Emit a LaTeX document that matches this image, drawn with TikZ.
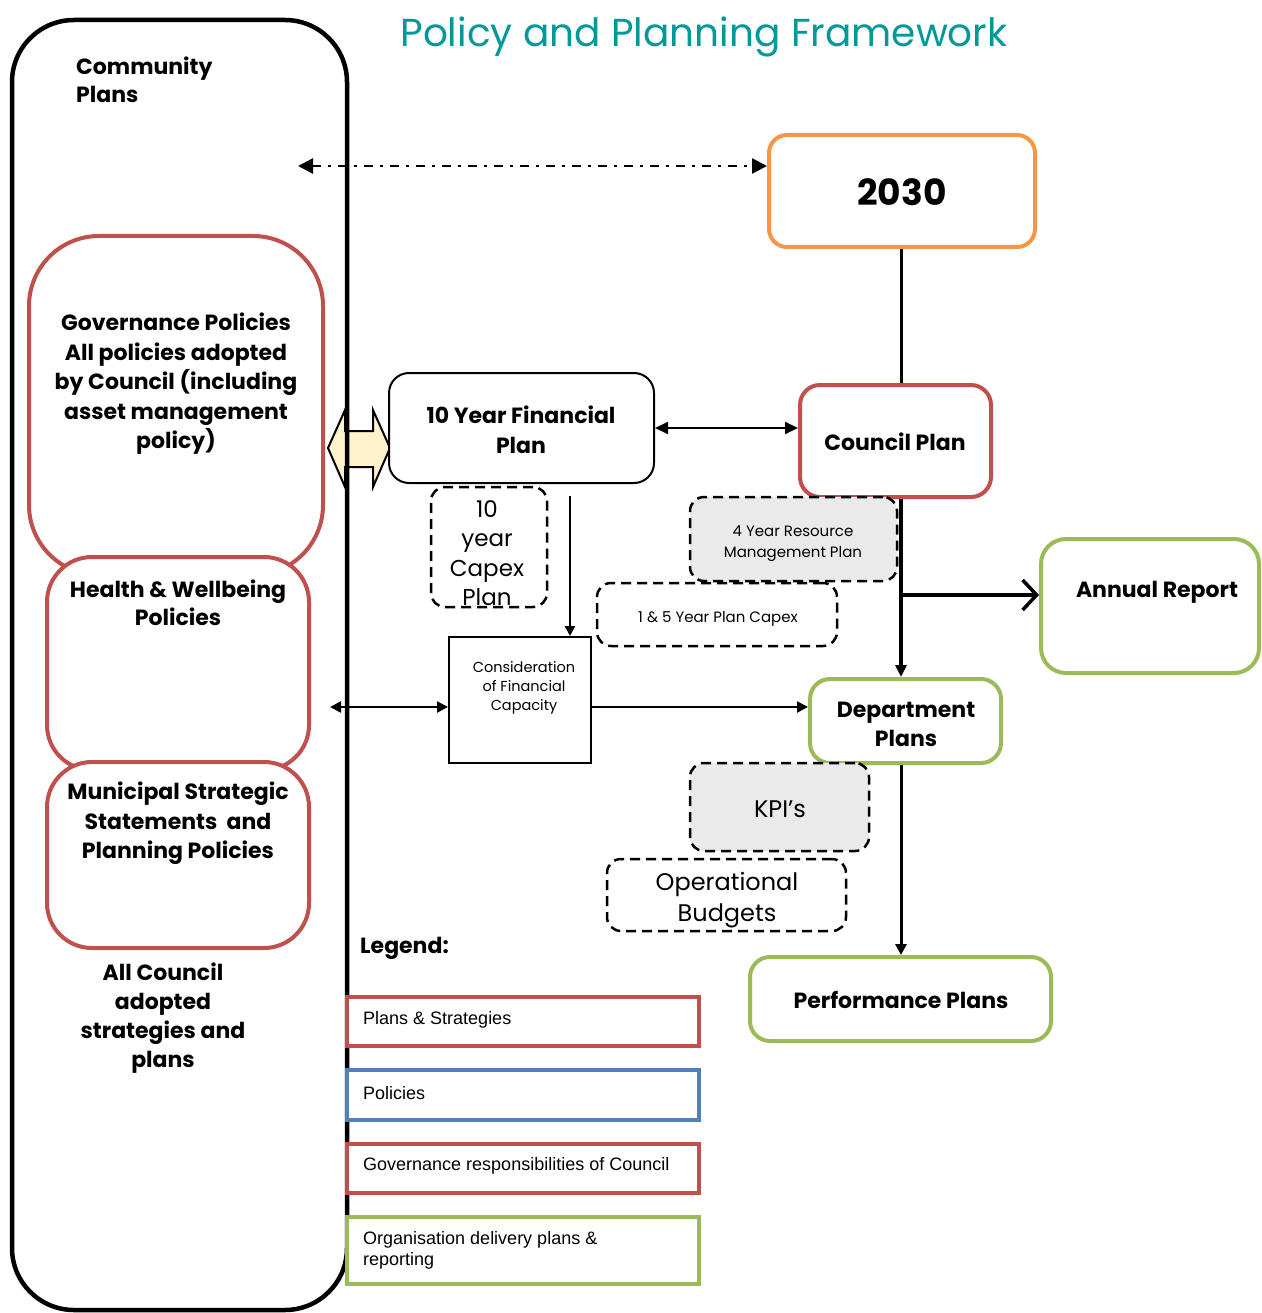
\documentclass[tikz,border=0pt]{standalone}
\usepackage{fontspec}
\setmainfont{Poppins}
\newfontfamily\arialf{Liberation Sans}
\usetikzlibrary{arrows.meta}
\definecolor{cred}{RGB}{192,80,77}
\definecolor{corange}{RGB}{247,150,70}
\definecolor{cgreen}{RGB}{155,187,89}
\definecolor{cblue}{RGB}{79,129,189}
\definecolor{cteal}{RGB}{0,153,153}
\definecolor{cgray}{RGB}{234,234,234}
\definecolor{cyellow}{RGB}{255,242,204}
\tikzset{
  cbox/.style={draw, line width=4pt, fill=white, rounded corners=#1, inner sep=0pt},
  cbox/.default=20pt,
  dbox/.style={draw, line width=2.5pt, dash pattern=on 10pt off 6pt, rounded corners=14pt, inner sep=0pt},
  lbox/.style={draw, line width=4pt, fill=white, inner sep=0pt},
  btxt/.style={font=\bfseries\fontsize{22}{29.5}\selectfont, align=center, inner sep=0pt},
  rtxt/.style={font=\fontsize{24}{30}\selectfont, align=center, inner sep=0pt},
  stxt/.style={font=\fontsize{14.5}{20}\selectfont, align=center, inner sep=0pt},
  ltxt/.style={font=\arialf\fontsize{18}{21}\selectfont, align=left, anchor=west, inner sep=0pt},
  conn/.style={line width=3pt, -{Triangle[length=12pt,width=11pt]}},
}
\begin{document}
\begin{tikzpicture}[x=1pt,y=-1pt]
\useasboundingbox (0,0) rectangle (1261,1313);
\fill[white] (0,0) rectangle (1261,1313);

% title
\node[text=cteal, font=\fontsize{39}{44}\selectfont, inner sep=0pt] (title) at (704,37) {Policy and Planning Framework};

% left column boxes
\node[cbox=70pt, draw=cred, minimum width=294pt, minimum height=339pt] (gov) at (176,405.5) {};
\node[cbox=45pt, draw=cred, minimum width=262pt, minimum height=213pt] (health) at (178,663.5) {};
\node[cbox=45pt, draw=cred, minimum width=262pt, minimum height=186pt] (muni) at (178,855) {};

\node[btxt] (govt) at (176,384) {Governance Policies\\All policies adopted\\by Council (including\\asset management\\policy)};
\node[btxt, font=\bfseries\fontsize{22}{28}\selectfont] (healtht) at (178,603) {Health \& Wellbeing\\Policies};
\node[btxt] (munit) at (178,823.5) {Municipal Strategic\\Statements\ \ and\\Planning Policies};
\node[btxt, font=\bfseries\fontsize{22}{29}\selectfont] (allc) at (163,1018.5) {All Council\\adopted\\strategies and\\plans};
\node[btxt, align=left, anchor=west, font=\bfseries\fontsize{22}{28}\selectfont] (comm) at (76,80) {Community\\Plans};

% yellow double arrow
\draw[line width=2pt, fill=cyellow] (328,448) -- (345,410) -- (345,431) -- (373,431) -- (373,410) -- (390,448) -- (373,487) -- (373,467) -- (345,467) -- (345,487) -- cycle;

% big container
\node[draw, line width=4.5pt, rounded corners=62pt, minimum width=335pt, minimum height=1290pt, inner sep=0pt] (big) at (179.5,665) {};

% main boxes
\node[cbox=18pt, draw=corange, minimum width=266pt, minimum height=112pt] (t2030) at (902,191) {};
\node[btxt, font=\bfseries\fontsize{36}{40}\selectfont] (t2030t) at (902,192) {2030};

\node[cbox, draw=cred, minimum width=191pt, minimum height=112pt] (council) at (895.5,441) {};
\node[btxt] (councilt) at (895,442) {Council Plan};

\node[draw, line width=2pt, rounded corners=20pt, fill=white, minimum width=265pt, minimum height=110pt, inner sep=0pt] (fin) at (521.5,428) {};
\node[btxt] (fint) at (521,430) {10 Year Financial\\Plan};

\node[dbox, fill=white, minimum width=116pt, minimum height=120pt] (capex) at (489,547) {};
\node[rtxt, font=\fontsize{23}{29.5}\selectfont] (capext) at (487,553) {10\\year\\Capex\\Plan};

\node[draw, line width=2pt, minimum width=142pt, minimum height=126pt, inner sep=0pt] (cons) at (520,700) {};
\node[stxt, font=\fontsize{14.5}{19}\selectfont] (const) at (524,688) {Consideration\\of Financial\\Capacity};

\node[dbox, fill=cgray, minimum width=207pt, minimum height=84pt] (rmp) at (793.5,539) {};
\node[stxt, font=\fontsize{15}{21}\selectfont] (rmpt) at (793,544) {4 Year Resource\\Management Plan};

\node[dbox, fill=white, minimum width=240pt, minimum height=63pt] (capex15) at (717,614.5) {};
\node[stxt, font=\fontsize{15}{20}\selectfont] (capex15t) at (718,619) {1 \& 5 Year Plan Capex};

\node[cbox=25pt, draw=cgreen, minimum width=218pt, minimum height=134pt] (annual) at (1150,606) {};
\node[btxt] (annualt) at (1157,592) {Annual Report};

\node[cbox, draw=cgreen, minimum width=191pt, minimum height=84pt] (dept) at (905.5,721) {};
\node[btxt, font=\bfseries\fontsize{22}{29}\selectfont] (deptt) at (906,724) {Department\\Plans};

\node[dbox, fill=cgray, minimum width=179pt, minimum height=88pt] (kpi) at (779.5,807) {};
\node[rtxt] (kpit) at (780,809) {KPI’s};

\node[dbox, fill=white, minimum width=239pt, minimum height=72pt] (opb) at (726.5,895) {};
\node[rtxt, font=\fontsize{24}{31}\selectfont] (opbt) at (727,900) {Operational\\Budgets};

\node[cbox, draw=cgreen, minimum width=301pt, minimum height=84pt] (perf) at (900.5,999) {};
\node[btxt] (perft) at (901,1000) {Performance Plans};

% legend
\node[btxt, anchor=west] (legend) at (360,948) {Legend:};
\node[lbox, draw=cred, minimum width=352pt, minimum height=49pt] (l1) at (523,1021.5) {};
\node[ltxt] (l1t) at (363,1020) {Plans \& Strategies};
\node[lbox, draw=cblue, minimum width=352pt, minimum height=50pt] (l2) at (523,1095) {};
\node[ltxt] (l2t) at (363,1093) {Policies};
\node[lbox, draw=cred, minimum width=352pt, minimum height=49pt] (l3) at (523,1168.5) {};
\node[ltxt] (l3t) at (363,1166) {Governance responsibilities of Council};
\node[lbox, draw=cgreen, minimum width=352pt, minimum height=67pt] (l4) at (523,1250.5) {};
\node[ltxt] (l4t) at (363,1250.5) {Organisation delivery plans \&\\reporting};

% connectors
\coordinate (dd) at (298,166);
\draw[line width=2.5pt, dash pattern=on 9pt off 7pt on 3pt off 7pt, {Triangle[length=15pt,width=15pt]}-{Triangle[length=15pt,width=15pt]}] (dd) -- (dd -| t2030.west);

\coordinate (vx) at (901,0);
\draw[line width=3pt] (vx |- t2030.south) -- (vx |- council.north);
\draw[line width=2pt, {Triangle[length=13pt,width=12pt]}-{Triangle[length=13pt,width=12pt]}] (fin.east) -- (fin.east -| council.west);
\draw[conn, line width=3.5pt] (vx |- council.south) -- (vx |- dept.north);
\coordinate (ay) at (0,595);
\draw[line width=3.5pt, -{Straight Barb[length=14pt,width=30pt,line width=3.5pt]}] (vx |- ay) -- (ay -| annual.west);

\coordinate (fa) at (570,496);
\draw[line width=2.5pt, -{Triangle[length=10pt,width=10pt]}] (fa) -- (fa |- cons.north);
\coordinate (la) at (330,707);
\draw[line width=2.5pt, {Triangle[length=11pt,width=11pt]}-{Triangle[length=11pt,width=11pt]}] (la) -- (la -| cons.west);
\draw[line width=2.5pt, -{Triangle[length=11pt,width=11pt]}] (la -| cons.east) -- (la -| dept.west);
\draw[line width=3pt, -{Triangle[length=11pt,width=11pt]}] (vx |- dept.south) -- (vx |- perf.north);
\end{tikzpicture}
\end{document}
